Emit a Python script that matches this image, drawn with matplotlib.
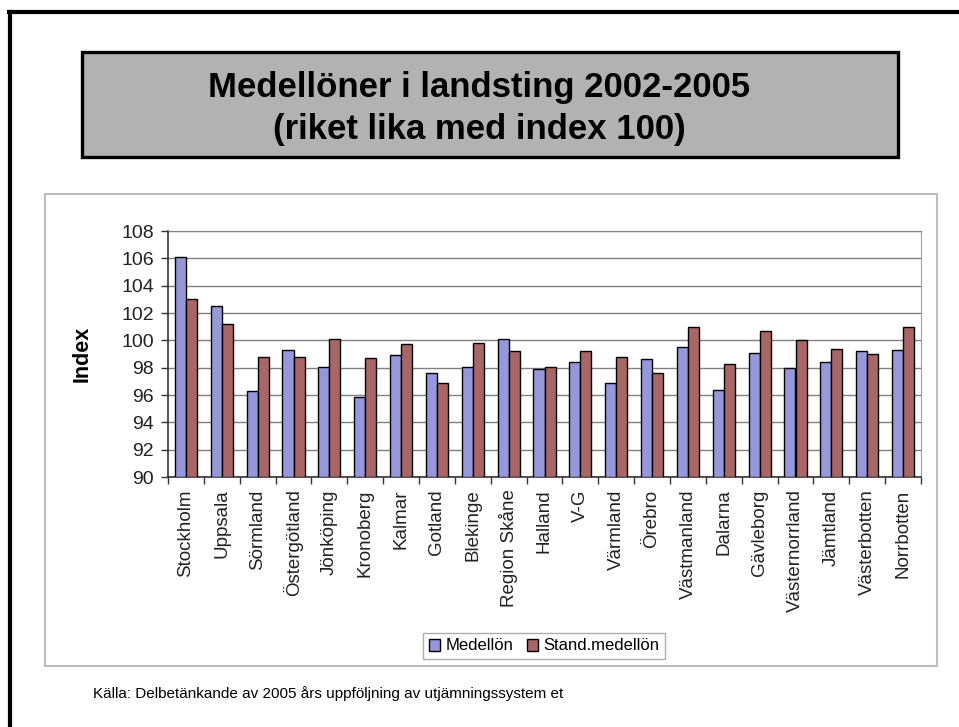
import matplotlib
matplotlib.use("Agg")
import matplotlib.pyplot as plt
from matplotlib.patches import Rectangle
from matplotlib.lines import Line2D
import numpy as np

plt.rcParams['font.family'] = ['Liberation Sans', 'DejaVu Sans']

categories = ["Stockholm", "Uppsala", "Sörmland", "Östergötland", "Jönköping",
              "Kronoberg", "Kalmar", "Gotland", "Blekinge", "Region Skåne",
              "Halland", "V-G", "Värmland", "Örebro", "Västmanland", "Dalarna",
              "Gävleborg", "Västernorrland", "Jämtland", "Västerbotten", "Norrbotten"]
medellon = [106.1, 102.5, 96.3, 99.3, 98.05, 95.85, 98.9, 97.6, 98.05, 100.1,
            97.9, 98.4, 96.9, 98.65, 99.5, 96.4, 99.1, 97.98, 98.4, 99.2, 99.3]
stand_medellon = [103.0, 101.2, 98.8, 98.8, 100.07, 98.7, 99.7, 96.9, 99.8, 99.2,
                  98.05, 99.2, 98.8, 97.6, 101.0, 98.3, 100.7, 100.0, 99.4, 99.0, 101.0]
yticks = list(range(90, 109, 2))

W, H = 959, 727
fig = plt.figure(figsize=(W / 100, H / 100), dpi=100)

def fx(px):
    return px / W

def fy(py):
    return 1 - py / H

# outer slide border (top and left)
fig.add_artist(Line2D([fx(9), fx(959)], [fy(12), fy(12)], color='black', lw=3, transform=fig.transFigure))
fig.add_artist(Line2D([fx(10), fx(10)], [fy(12), fy(727)], color='black', lw=3, transform=fig.transFigure))

# title box
fig.add_artist(Rectangle((fx(82), fy(157)), fx(898) - fx(82), fy(52) - fy(157),
                         facecolor='#B2B2B2', edgecolor='black', lw=2.4,
                         transform=fig.transFigure))
fig.text(0.5, fy(88), "Medellöner i landsting 2002-2005", ha='center', va='center',
         fontsize=25, fontweight='bold')
fig.text(0.5, fy(129), "(riket lika med index 100)", ha='center', va='center',
         fontsize=25, fontweight='bold')

# chart frame
fig.add_artist(Rectangle((fx(45), fy(666)), fx(937) - fx(45), fy(194) - fy(666),
                         facecolor='none', edgecolor='#BDBDBD', lw=1.5,
                         transform=fig.transFigure))

ax = fig.add_axes([fx(168), fy(477), fx(921) - fx(168), fy(231) - fy(477)])
x = np.arange(len(categories))
bw = 0.31
ax.bar(x - bw / 2, [v - 90 for v in medellon], bw, bottom=90, color='#9797DC',
       edgecolor='black', lw=1.0, label='Medellön', zorder=3)
ax.bar(x + bw / 2, [v - 90 for v in stand_medellon], bw, bottom=90, color='#A86666',
       edgecolor='black', lw=1.0, label='Stand.medellön', zorder=3)

ax.set_ylim(90, 108)
ax.set_xlim(-0.5, len(categories) - 0.5)
ax.set_yticks(yticks)
ax.set_yticklabels([str(t) for t in yticks], fontsize=14, color='#222222')
ax.yaxis.grid(True, color='#808080', lw=1.0, zorder=0)
ax.tick_params(axis='y', length=5, width=1, color='#333333', pad=5)

ax.set_xticks(x)
ax.set_xticklabels(categories, rotation=90, fontsize=13.5, color='#222222', va='top')
ax.set_xticks(np.arange(-0.5, len(categories), 1), minor=True)
ax.tick_params(axis='x', which='major', length=0, pad=9)
ax.tick_params(axis='x', which='minor', length=5, width=1, color='#333333')

for s in ['left', 'bottom']:
    ax.spines[s].set_color('#333333')
    ax.spines[s].set_linewidth(1.2)
ax.spines['top'].set_color('#808080')
ax.spines['right'].set_color('#A0A0A0')

ax.set_ylabel("Index", fontsize=15.5, fontweight='bold')
ax.yaxis.set_label_coords((82 - 168) / (921 - 168), 0.5)
ax.yaxis.label.set_va('center')

leg = fig.legend(loc='center', bbox_to_anchor=(fx(544), fy(646)), ncol=2,
                 fontsize=12, frameon=True, fancybox=False, edgecolor='#999999',
                 handlelength=0.7, handleheight=0.7, handletextpad=0.3,
                 columnspacing=0.8, borderpad=0.35)
leg.get_frame().set_linewidth(1.0)

fig.text(fx(93), fy(694), "Källa: Delbetänkande av 2005 års uppföljning av utjämningssystem et",
         ha='left', va='center', fontsize=11)

fig.savefig("out.png", dpi=100)
